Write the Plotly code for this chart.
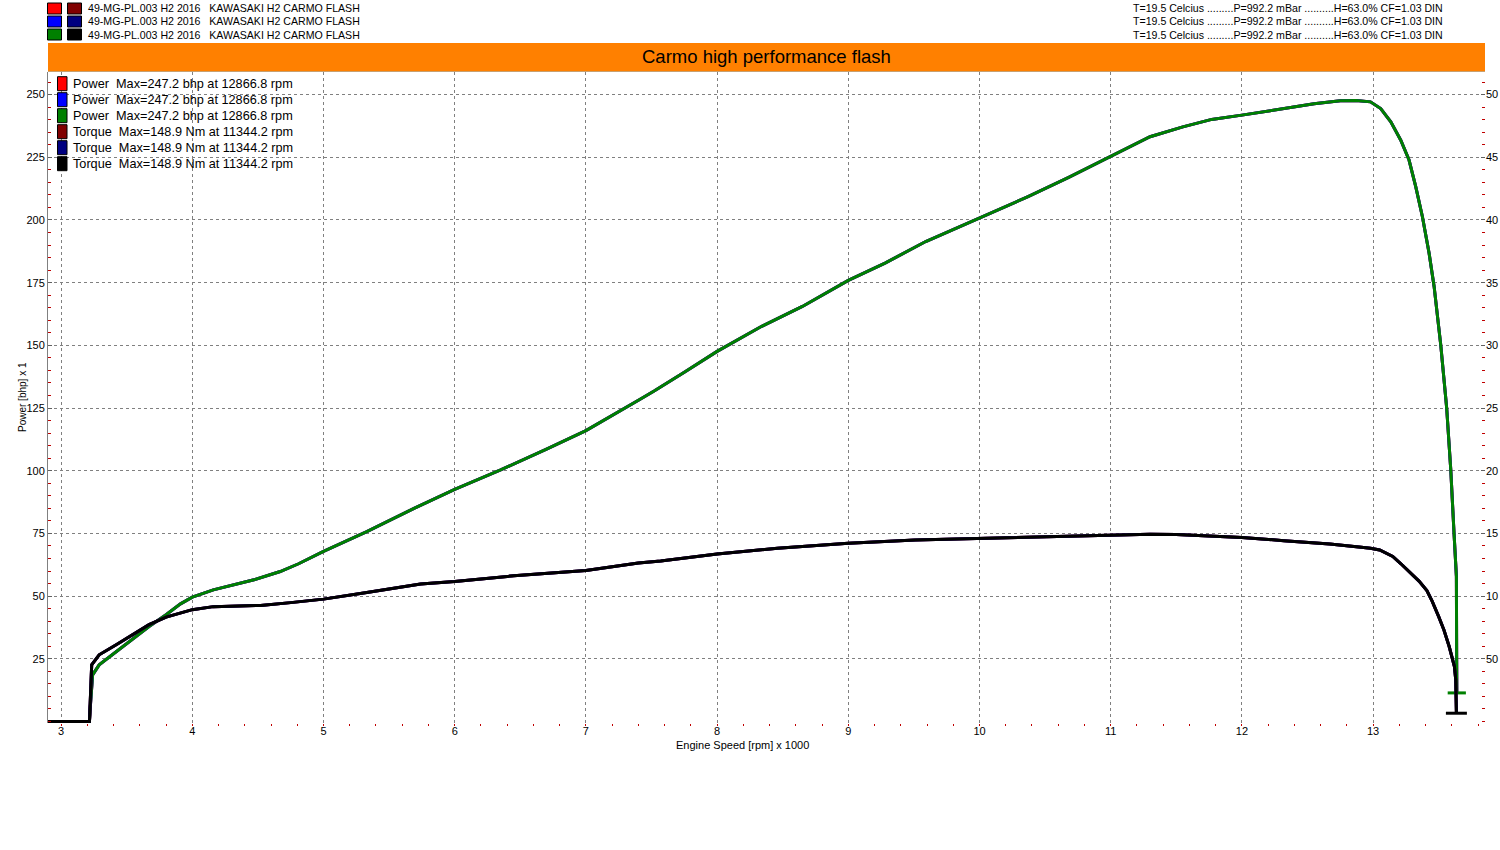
import plotly.graph_objects as go

# ---------------- data ----------------
power_rpm = [2.90, 3.216, 3.22, 3.24, 3.29, 3.42, 3.54, 3.67, 3.80, 3.91, 4.00, 4.16, 4.47, 4.67,
             4.81, 5.00, 5.33, 5.69, 6.00, 6.35, 6.70, 7.00, 7.41, 7.52, 7.75, 8.00, 8.34, 8.65,
             9.00, 9.28, 9.59, 10.00, 10.37, 10.68, 11.00, 11.30, 11.55, 11.77, 12.00, 12.30,
             12.55, 12.75, 12.87, 12.98, 13.058, 13.135, 13.211, 13.274, 13.325, 13.376, 13.427,
             13.465, 13.50, 13.516, 13.561, 13.592, 13.617, 13.635, 13.637, 13.638]
power_bhp = [0, 0, 4.0, 18.6, 22.6, 27.9, 32.6, 37.9, 42.6, 46.9, 49.6, 52.5, 56.5, 59.8,
             62.9, 67.8, 75.7, 85.0, 92.6, 100.3, 108.6, 116.0, 128.4, 131.8, 139.3, 147.6, 157.6, 165.5,
             175.9, 182.8, 191.4, 200.7, 209.3, 217.0, 225.2, 233.2, 237.1, 240.1, 241.8, 244.4,
             246.3, 247.5, 247.6, 247.1, 244.4, 239.1, 231.8, 223.9, 213.3, 201.3, 186.7,
             173.5, 157.5, 150.0, 125.0, 100.4, 75.0, 57.8, 24.6, 11.4]

torque_rpm = [2.90, 3.216, 3.233, 3.29, 3.42, 3.54, 3.67, 3.80, 3.91, 4.00, 4.16, 4.35, 4.52, 4.75,
              5.00, 5.33, 5.74, 6.00, 6.45, 7.00, 7.40, 7.57, 8.00, 8.46, 9.00, 9.51, 10.00, 10.56,
              11.00, 11.30, 11.50, 12.00, 12.32, 12.67, 12.91, 12.98, 13.05, 13.15, 13.21, 13.28,
              13.35, 13.41, 13.45, 13.50, 13.54, 13.58, 13.62, 13.63, 13.635]
torque_val = [0, 0, 4.52, 5.32, 6.12, 6.92, 7.72, 8.32, 8.68, 8.92, 9.16, 9.22, 9.26, 9.48,
              9.76, 10.28, 10.96, 11.16, 11.62, 12.04, 12.64, 12.80, 13.36, 13.82, 14.22, 14.48, 14.60, 14.74,
              14.86, 14.94, 14.92, 14.68, 14.42, 14.16, 13.90, 13.82, 13.68, 13.16, 12.60, 11.90,
              11.20, 10.45, 9.60, 8.36, 7.30, 5.98, 4.38, 3.32, 0.66]

run_label = "49-MG-PL.003 H2 2016   KAWASAKI H2 CARMO FLASH"
cond_label = "T=19.5 Celcius .........P=992.2 mBar ..........H=63.0% CF=1.03 DIN"
chart_title = "Carmo high performance flash"
power_legend = "Power  Max=247.2 bhp at 12866.8 rpm"
torque_legend = "Torque  Max=148.9 Nm at 11344.2 rpm"
power_colors = ["#FF0000", "#0000FF", "#008000"]
torque_colors = ["#800000", "#000080", "#000000"]

x_ticks = list(range(3, 14))
y_ticks = list(range(25, 251, 25))
y2_ticks = list(range(5, 51, 5))
y2_text = ["50", "10", "15", "20", "25", "30", "35", "40", "45", "50"]

# ---------------- layout helpers (page pixels) ----------------
W, H = 1500, 850
ML, MT = 48, 72
MR = W - 1485
MB = H - 723
PW, PH = W - ML - MR, H - MT - MB


def px(x):
    return (x - ML) / PW


def py(y):
    return (H - MB - y) / PH


FONT = "Liberation Sans, Arial, sans-serif"

fig = go.Figure()

for c in power_colors:
    fig.add_trace(go.Scatter(x=power_rpm, y=power_bhp, mode="lines",
                             line=dict(color=c, width=3), showlegend=False, hoverinfo="skip"))
for c in torque_colors:
    fig.add_trace(go.Scatter(x=torque_rpm, y=torque_val, mode="lines", yaxis="y2",
                             line=dict(color=c, width=3), showlegend=False, hoverinfo="skip"))

# end caps
fig.add_trace(go.Scatter(x=[power_rpm[-1]], y=[power_bhp[-1]], mode="markers",
                         marker=dict(symbol="line-ew", size=13, line=dict(color=power_colors[-1], width=3)),
                         showlegend=False, hoverinfo="skip", cliponaxis=False))
fig.add_trace(go.Scatter(x=[torque_rpm[-1]], y=[torque_val[-1]], mode="markers", yaxis="y2",
                         marker=dict(symbol="line-ew", size=15, line=dict(color=torque_colors[-1], width=3)),
                         showlegend=False, hoverinfo="skip", cliponaxis=False))

shapes = []
annotations = []

# orange title band
shapes.append(dict(type="rect", xref="paper", yref="paper", x0=px(48), x1=px(1485),
                   y0=py(71), y1=py(43), fillcolor="#FF8000", line=dict(width=0), layer="above"))
shapes.append(dict(type="line", xref="paper", yref="paper", x0=px(48), x1=px(1485),
                   y0=py(71.5), y1=py(71.5), line=dict(color="#C8A070", width=1)))
annotations.append(dict(text=chart_title, xref="paper", yref="paper", x=px(766), y=py(57),
                        xanchor="center", yanchor="middle", showarrow=False,
                        font=dict(family=FONT, size=18.5, color="black")))

# header rows
for i in range(3):
    yc = 8.5 + 13 * i
    shapes.append(dict(type="rect", xref="paper", yref="paper", x0=px(47.5), x1=px(61.5),
                       y0=py(yc + 5.5), y1=py(yc - 5.5), fillcolor=power_colors[i],
                       line=dict(color="black", width=1)))
    shapes.append(dict(type="rect", xref="paper", yref="paper", x0=px(67.5), x1=px(81.5),
                       y0=py(yc + 5.5), y1=py(yc - 5.5), fillcolor=torque_colors[i],
                       line=dict(color="black", width=1)))
    annotations.append(dict(text=run_label, xref="paper", yref="paper", x=px(86), y=py(yc),
                            xanchor="left", yanchor="middle", showarrow=False,
                            font=dict(family=FONT, size=10.6, color="black")))
    annotations.append(dict(text=cond_label, xref="paper", yref="paper", x=px(1131), y=py(yc),
                            xanchor="left", yanchor="middle", showarrow=False,
                            font=dict(family=FONT, size=10.6, color="black")))

# inner legend
leg_items = [(power_legend, c) for c in power_colors] + [(torque_legend, c) for c in torque_colors]
for i, (txt, c) in enumerate(leg_items):
    yc = 83.7 + 16 * i
    shapes.append(dict(type="rect", xref="paper", yref="paper", x0=px(57.5), x1=px(67),
                       y0=py(yc + 7), y1=py(yc - 7), fillcolor=c,
                       line=dict(color="black", width=1), layer="above"))
    annotations.append(dict(text=txt, xref="paper", yref="paper", x=px(71), y=py(yc),
                            xanchor="left", yanchor="middle", showarrow=False,
                            font=dict(family=FONT, size=12.7, color="black")))

# axis titles
annotations.append(dict(text="Power [bhp] x 1", xref="paper", yref="paper", x=px(22), y=py(397),
                        xanchor="center", yanchor="middle", textangle=-90, showarrow=False,
                        font=dict(family=FONT, size=10, color="black")))
annotations.append(dict(text="Engine Speed [rpm] x 1000", xref="paper", yref="paper", x=px(742), y=py(745),
                        xanchor="center", yanchor="middle", showarrow=False,
                        font=dict(family=FONT, size=11, color="black")))

fig.update_layout(
    width=W, height=H, autosize=False,
    margin=dict(l=ML, r=MR, t=MT, b=MB, autoexpand=False),
    paper_bgcolor="white", plot_bgcolor="white",
    font=dict(family=FONT, size=11, color="black"),
    showlegend=False,
    shapes=shapes, annotations=annotations,
    xaxis=dict(range=[2.9, 13.853], tickvals=x_ticks, ticktext=[str(v) for v in x_ticks],
               automargin=False,
               showgrid=True, gridcolor="#808080", griddash="3px,3px", gridwidth=1,
               showline=False, zeroline=False, ticks="", ticklabelstandoff=0,
               tickfont=dict(size=11, color="black"),
               minor=dict(dtick=0.2, ticks="outside", ticklen=2, tickcolor="#C00000", tickwidth=1,
                          showgrid=False)),
    yaxis=dict(range=[-0.6, 259], tickvals=y_ticks, ticktext=[str(v) for v in y_ticks],
               automargin=False,
               showgrid=True, gridcolor="#808080", griddash="3px,3px", gridwidth=1,
               showline=True, linecolor="#808080", linewidth=1, zeroline=False,
               ticks="inside", ticklen=4, tickcolor="#606060",
               tickfont=dict(size=11, color="black"),
               minor=dict(dtick=5, tick0=0, ticks="inside", ticklen=3, tickcolor="#C00000", tickwidth=1,
                          showgrid=False)),
    yaxis2=dict(overlaying="y", side="right", range=[-0.12, 51.8], tickvals=y2_ticks, ticktext=y2_text,
                automargin=False,
                showgrid=False, showline=False, zeroline=False,
                ticks="inside", ticklen=4, tickcolor="#606060",
                tickfont=dict(size=11, color="black"),
                minor=dict(dtick=1, tick0=0, ticks="inside", ticklen=3, tickcolor="#C00000", tickwidth=1,
                           showgrid=False)),
)

fig.write_html("out.html", config={"displayModeBar": False},
               post_script="document.body.style.margin='0';document.body.style.overflow='hidden';")
